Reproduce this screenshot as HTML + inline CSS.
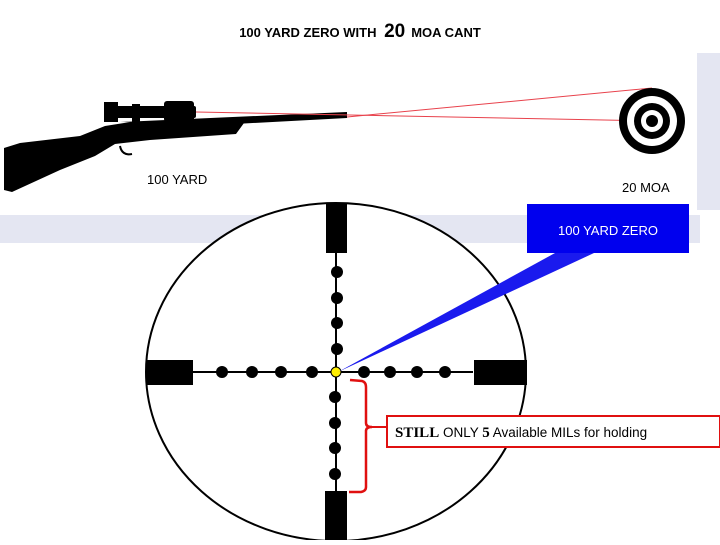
<!DOCTYPE html>
<html><head><style>
body{margin:0;background:#fff;}
svg text{font-family:"Liberation Sans",sans-serif;}
</style></head><body>
<svg width="720" height="540" viewBox="0 0 720 540" xmlns="http://www.w3.org/2000/svg">
<rect x="0" y="215" width="700" height="28" fill="#e4e6f2"/>
<rect x="697" y="53" width="23" height="157" fill="#e4e6f2"/>
<text x="360" y="37" text-anchor="middle" font-size="13" font-weight="bold" fill="#000">100 YARD ZERO WITH <tspan font-size="19" dx="4">20</tspan><tspan dx="6">MOA CANT</tspan></text>
<!-- rifle -->
<path d="M4,148 L20,143 L80,136 L105,126 L130,122 L235,118 L244,123 L236,134 L150,140 L115,144 L95,156 L60,170 L12,192 L4,190 Z" fill="#000"/>
<path d="M120,122 L347,112 L347,118 L235,124 Z" fill="#000"/>
<rect x="108" y="106" width="88" height="12" rx="2" fill="#000"/>
<rect x="104" y="102" width="14" height="20" fill="#000"/>
<rect x="164" y="101" width="30" height="21" rx="3" fill="#000"/>
<rect x="132" y="104" width="8" height="22" fill="#000"/>
<path d="M120,146 q2,10 12,8" stroke="#000" stroke-width="2" fill="none"/>
<line x1="196" y1="112" x2="652" y2="121" stroke="#e8424c" stroke-width="1"/>
<line x1="347" y1="117" x2="652" y2="88" stroke="#e8424c" stroke-width="1"/>
<!-- target -->
<circle cx="652" cy="121" r="33" fill="#000"/>
<circle cx="652" cy="121" r="25" fill="#fff"/>
<circle cx="652" cy="121" r="18" fill="#000"/>
<circle cx="652" cy="121" r="11" fill="#fff"/>
<circle cx="652" cy="121" r="6" fill="#000"/>
<text x="147" y="184" font-size="13">100 YARD</text>
<text x="622" y="192" font-size="13">20 MOA</text>
<!-- reticle -->
<ellipse cx="336" cy="372" rx="190" ry="169" fill="#fff" stroke="#000" stroke-width="2"/>
<line x1="193" y1="372" x2="473" y2="372" stroke="#000" stroke-width="2"/>
<line x1="336" y1="253" x2="336" y2="491" stroke="#000" stroke-width="2"/>
<rect x="326" y="204" width="21" height="49" fill="#000"/>
<rect x="325" y="491" width="22" height="49" fill="#000"/>
<rect x="146" y="360" width="47" height="25" fill="#000"/>
<rect x="474" y="360" width="53" height="25" fill="#000"/>
<g fill="#000">
<circle cx="222" cy="372" r="6"/><circle cx="252" cy="372" r="6"/><circle cx="281" cy="372" r="6"/><circle cx="312" cy="372" r="6"/>
<circle cx="364" cy="372" r="6"/><circle cx="390" cy="372" r="6"/><circle cx="417" cy="372" r="6"/><circle cx="445" cy="372" r="6"/>
<circle cx="337" cy="272" r="6"/><circle cx="337" cy="298" r="6"/><circle cx="337" cy="323" r="6"/><circle cx="337" cy="349" r="6"/>
<circle cx="335" cy="397" r="6"/><circle cx="335" cy="423" r="6"/><circle cx="335" cy="448" r="6"/><circle cx="335" cy="474" r="6"/>
</g>
<circle cx="336" cy="372" r="5" fill="#ffee00" stroke="#000" stroke-width="1"/>
<!-- callout -->
<path d="M555,253 L594,253 L338,372 Z" fill="#1a1aee"/>
<rect x="527" y="204" width="162" height="49" fill="#0000ee"/>
<text x="608" y="235" text-anchor="middle" font-size="13" fill="#fff">100 YARD ZERO</text>
<!-- bracket -->
<path d="M350,380 L362,381 Q366,382 366,387 L366,423 Q366,427 372,427 Q366,427 366,431 L366,487 Q366,491 361,492 L349,492" stroke="#e01010" stroke-width="2.5" fill="none"/>
<line x1="372" y1="427" x2="387" y2="427" stroke="#e01010" stroke-width="2"/>
<rect x="387" y="416" width="333" height="31" fill="#fff" stroke="#e01010" stroke-width="2"/>
<text x="395" y="437" font-size="13.5" fill="#000"><tspan font-family="Liberation Serif,serif" font-weight="bold" font-size="15">STILL</tspan> ONLY <tspan font-family="Liberation Serif,serif" font-weight="bold" font-size="15">5</tspan> Available MILs for holding</text>
</svg>
</body></html>
